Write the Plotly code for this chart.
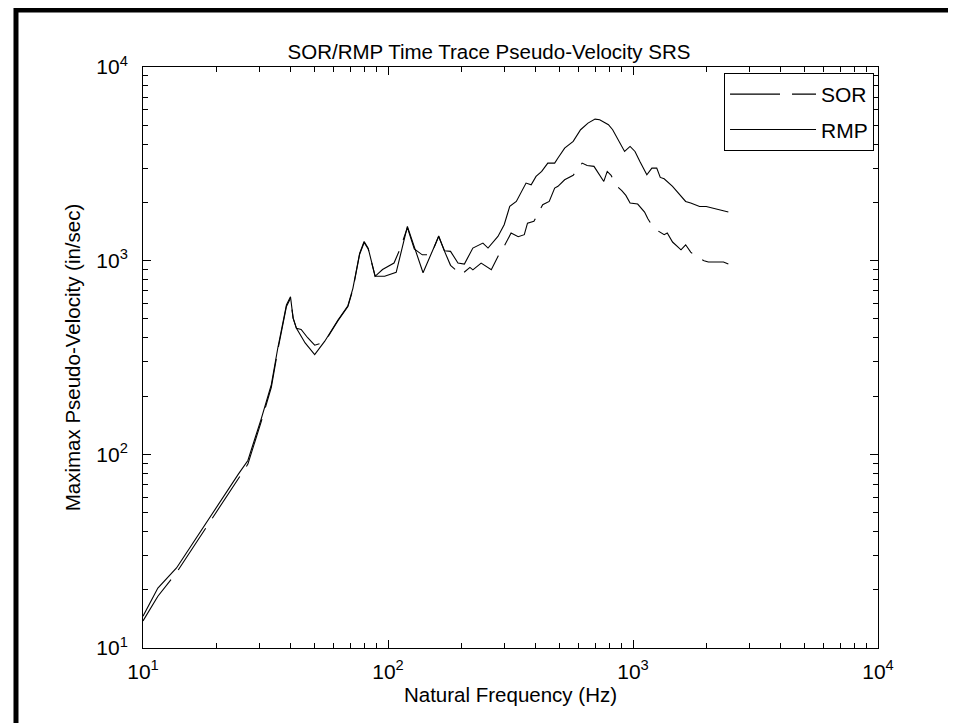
# -*- coding: utf-8 -*-
# SOR / RMP pseudo-velocity shock response spectrum (log-log)

import plotly.graph_objs as go

# natural frequency (Hz) and maximax pseudo-velocity (in/sec)
rmp_freq = [10, 11.5, 13.7, 16, 19, 22, 24.5, 26.8, 30.4, 33.4, 35.5, 38.5, 40, 41,
            42.3, 45.9, 50.2, 55.2, 62.5, 68.6, 71.9, 76.6, 79.9, 83, 88.6, 96.9,
            108, 120, 139, 161, 170, 180, 193, 205, 222, 244, 256, 281, 298, 314,
            334, 366, 384, 402, 424, 449, 479, 494, 526, 570, 611, 655, 700, 731,
            794, 826, 869, 924, 973, 1019, 1067, 1139, 1194, 1250, 1292, 1340,
            1450, 1640, 1720, 1870, 1990, 2230, 2450]
rmp_vel = [14.6, 20.4, 25.9, 35, 49, 65, 79, 93, 153, 229, 354, 590, 651, 505,
           447, 376, 327, 384, 494, 585, 720, 1090, 1255, 1160, 831, 831,
           870, 1503, 866, 1334, 1125, 1117, 972, 960, 1162, 1233, 1162, 1334, 1534, 1907,
           2023, 2516, 2463, 2723, 2890, 3190, 3190, 3388, 3814, 4130, 4744, 5130, 5380, 5340,
           5035, 4744, 4210, 3664, 3890, 3664, 3255, 2778, 3006, 3006, 2690, 2647,
           2421, 2023, 1983, 1905, 1905, 1833, 1782]

sor_freq = [10, 11.5, 13.7, 17, 21, 24.5, 26.8, 30.4, 33.4, 35.5, 38.5, 40, 41,
            42.3, 44.2, 47, 50.2, 55.2, 62.5, 68.6, 71.9, 76.6, 79.9, 83, 88.6, 95,
            105.8, 112, 120, 128, 138, 150, 161, 170, 180, 199, 216, 222, 240, 264,
            281, 298, 318, 340, 360, 371, 394, 428, 455, 479, 494, 526, 570, 620,
            650, 693, 760, 785, 814, 853, 900, 935, 973, 1045, 1115, 1150, 1197,
            1270, 1340, 1380, 1450, 1570, 1640, 1720, 1850, 1950, 2030, 2340, 2450]
sor_vel = [13.8, 18.5, 24.5, 37, 56, 74, 89, 148, 222, 345, 580, 640, 505,
           447, 441, 400, 366, 380, 490, 580, 710, 1080, 1240, 1150, 830, 900,
           972, 1150, 1480, 1150, 1072, 1072, 1340, 1120, 946, 846, 923, 897, 972, 898,
           1052, 1186, 1390, 1330, 1362, 1563, 1596, 1944, 2023, 2371, 2421, 2616, 2761, 3190,
           3100, 3069, 2565, 2890, 2761, 2447, 2300, 2173, 1983, 1960, 1782, 1645, 1521,
           1420, 1362, 1390, 1248, 1138, 1208, 1107, 1030, 1000, 984, 984, 960]

tick_vals = [10, 100, 1000, 10000]
tick_text = ['10<sup>1</sup>', '10<sup>2</sup>', '10<sup>3</sup>', '10<sup>4</sup>']

font_name = 'Liberation Sans, Arial, Helvetica, sans-serif'

trace1 = go.Scatter(
    x=sor_freq, y=sor_vel, name='SOR', mode='lines', legendgroup='sor',
    line=dict(color='black', width=1.1, dash='50px,12px'))

trace2 = go.Scatter(
    x=rmp_freq, y=rmp_vel, name='RMP', mode='lines', legendgroup='rmp',
    line=dict(color='black', width=1.1))

axis_style = dict(
    type='log', showline=True, linecolor='black', linewidth=1,
    mirror='ticks', ticks='inside', ticklen=8, tickcolor='black',
    tickvals=tick_vals, ticktext=tick_text, showgrid=False, zeroline=False,
    tickfont=dict(size=21, color='black', family=font_name),
    minor=dict(ticks='inside', ticklen=5, tickcolor='black', dtick='D1', showgrid=False),
)

layout = go.Layout(
    width=956, height=723,
    margin=dict(l=135, r=86, t=59, b=83),
    paper_bgcolor='white', plot_bgcolor='white',
    font=dict(family=font_name, size=21, color='black'),
    title=dict(text='SOR/RMP Time Trace Pseudo-Velocity SRS', x=481 / 956, xref='container',
               xanchor='center', y=1 - 44 / 723, yref='container', yanchor='middle',
               font=dict(size=20.5, color='black')),
    xaxis=dict(axis_style, range=[1, 4], ticklabelstandoff=5,
               title=dict(text='Natural Frequency (Hz)', standoff=5,
                          font=dict(size=20.5, color='black'))),
    yaxis=dict(axis_style, range=[1, 4], ticklabelstandoff=10,
               title=dict(text='Maximax Pseudo-Velocity (in/sec)', standoff=10,
                          font=dict(size=20.5, color='black'))),
    legend=dict(x=0.9946, xanchor='right', y=0.9897, yanchor='top',
                bgcolor='white', bordercolor='black', borderwidth=1,
                itemwidth=86, tracegroupgap=5, font=dict(size=21, color='black')),
    showlegend=True,
    shapes=[dict(type='rect', xref='paper', yref='paper',
                 x0=-0.1728, x1=1.125, y0=-0.1386, y1=1.098,
                 line=dict(color='black', width=5))],
)

fig = go.Figure(data=[trace1, trace2], layout=layout)

fig.write_html('out.html')
